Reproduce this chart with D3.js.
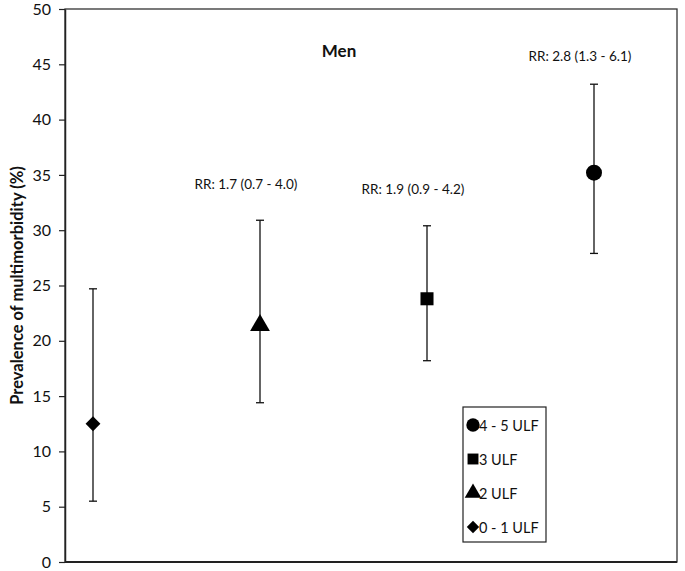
<!DOCTYPE html>
<html>
<head>
<meta charset="utf-8">
<script src="https://cdn.jsdelivr.net/npm/d3@7"></script>
<style>
  body { margin: 0; background: #fff; }
  text { font-family: Lato, "Open Sans", sans-serif; fill: #111; }
</style>
</head>
<body>
<div id="chart"></div>
<script>
// Chart data
var groups = ['0 - 1 ULF', '2 ULF', '3 ULF', '4 - 5 ULF']
var prevalence = [12.5, 21.4, 23.8, 35.2]
var lowerCI = [5.5, 14.4, 18.2, 27.9]
var upperCI = [24.7, 30.9, 30.4, 43.2]
var rrLabels = ['', 'RR: 1.7 (0.7 - 4.0)', 'RR: 1.9 (0.9 - 4.2)', 'RR: 2.8 (1.3 - 6.1)']
var rrLabelY = [0, 33.7, 33.3, 45.3]
var symbols = [d3.symbolSquare, d3.symbolTriangle, d3.symbolSquare, d3.symbolCircle]
var symRotate = [45, 0, 0, 0]
var yTicks = [0, 5, 10, 15, 20, 25, 30, 35, 40, 45, 50]

var width = 685
var height = 571
var margin = { top: 9, right: 8, bottom: 9, left: 65 }

var svg = d3.select('#chart')
  .append('svg')
  .attr('width', width)
  .attr('height', height)

var x = d3.scaleLinear()
  .domain([0, 3])
  .range([93, 594])

var y = d3.scaleLinear()
  .domain([0, 50])
  .range([height - margin.bottom, margin.top])

// plot frame (top, right)
svg.append('rect')
  .attr('x', margin.left)
  .attr('y', margin.top)
  .attr('width', width - margin.right - margin.left)
  .attr('height', y(0) - margin.top)
  .attr('fill', 'none')
  .attr('stroke', '#333')
  .attr('stroke-width', 1.3)

// y axis
var yAxis = svg.append('g')
  .attr('transform', `translate(${margin.left},0)`)
  .call(d3.axisLeft(y).tickValues(yTicks).tickSize(6).tickSizeOuter(0))
yAxis.select('.domain').attr('stroke', '#222').attr('stroke-width', 1.5)
yAxis.selectAll('.tick line').attr('stroke', '#222').attr('stroke-width', 1.2)
yAxis.selectAll('.tick text')
  .attr('x', -14)
  .style('font-size', '16px')
  .style('font-family', 'Lato, "Open Sans", sans-serif')
  .attr('fill', '#111')

// bottom line
svg.append('line')
  .attr('x1', margin.left).attr('x2', width - margin.right)
  .attr('y1', y(0)).attr('y2', y(0))
  .attr('stroke', '#222').attr('stroke-width', 1.8)

// y axis title
svg.append('text')
  .attr('transform', `translate(23,${(y(0) + y(50)) / 2}) rotate(-90)`)
  .attr('text-anchor', 'middle')
  .style('font-size', '16.5px')
  .style('font-weight', 'bold')
  .text('Prevalence of multimorbidity (%)')

// title
svg.append('text')
  .attr('x', 339)
  .attr('y', 57)
  .attr('text-anchor', 'middle')
  .style('font-size', '17px')
  .style('font-weight', 'bold')
  .text('Men')

// error bars
var bars = svg.selectAll('.err')
  .data(groups)
  .enter().append('g')
  .attr('class', 'err')

bars.append('line')
  .attr('x1', (d, i) => x(i)).attr('x2', (d, i) => x(i))
  .attr('y1', (d, i) => y(lowerCI[i])).attr('y2', (d, i) => y(upperCI[i]))
  .attr('stroke', '#111').attr('stroke-width', 1.3)

bars.append('line')
  .attr('x1', (d, i) => x(i) - 4).attr('x2', (d, i) => x(i) + 4)
  .attr('y1', (d, i) => y(lowerCI[i])).attr('y2', (d, i) => y(lowerCI[i]))
  .attr('stroke', '#111').attr('stroke-width', 1.3)

bars.append('line')
  .attr('x1', (d, i) => x(i) - 4).attr('x2', (d, i) => x(i) + 4)
  .attr('y1', (d, i) => y(upperCI[i])).attr('y2', (d, i) => y(upperCI[i]))
  .attr('stroke', '#111').attr('stroke-width', 1.3)

// markers
var symSize = [110, 170, 170, 200]
svg.selectAll('.marker')
  .data(groups)
  .enter().append('path')
  .attr('class', 'marker')
  .attr('transform', (d, i) => `translate(${x(i)},${y(prevalence[i])}) rotate(${symRotate[i]})`)
  .attr('d', (d, i) => d3.symbol().type(symbols[i]).size(symSize[i])())
  .attr('fill', '#000')

// RR labels
svg.selectAll('.rr')
  .data(groups)
  .enter().append('text')
  .attr('class', 'rr')
  .attr('x', (d, i) => x(i) - 14)
  .attr('y', (d, i) => y(rrLabelY[i]))
  .attr('text-anchor', 'middle')
  .style('font-size', '13.5px')
  .text((d, i) => rrLabels[i])

// legend
var legend = svg.append('g').attr('transform', 'translate(463,407)')
legend.append('rect')
  .attr('width', 83).attr('height', 135)
  .attr('fill', '#fff').attr('stroke', '#222').attr('stroke-width', 1.2)

var legendOrder = [3, 2, 1, 0]
var items = legend.selectAll('.item')
  .data(legendOrder)
  .enter().append('g')
  .attr('transform', (d, j) => `translate(0,${18 + j * 34})`)

items.append('path')
  .attr('transform', d => `translate(10,0) rotate(${symRotate[d]})`)
  .attr('d', d => d3.symbol().type(symbols[d]).size(symSize[d] * 0.7)())
  .attr('fill', '#000')

items.append('text')
  .attr('x', 16)
  .attr('y', 5.5)
  .style('font-size', '14.5px')
  .text(d => groups[d])
</script>
</body>
</html>
